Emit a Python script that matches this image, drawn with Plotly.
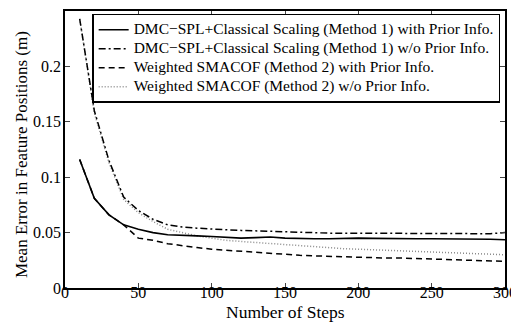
import plotly.graph_objects as go

steps = list(range(10, 301, 10))

m1_with = [0.116, 0.081, 0.066, 0.057, 0.053, 0.050, 0.048, 0.0478, 0.047, 0.0465,
           0.046, 0.045, 0.0455, 0.046, 0.045, 0.0445, 0.0445, 0.0445, 0.045, 0.045,
           0.0448, 0.0445, 0.0445, 0.0445, 0.0445, 0.0445, 0.044, 0.044, 0.044, 0.0435]
m1_without = [0.243, 0.160, 0.115, 0.082, 0.070, 0.062, 0.057, 0.055, 0.054, 0.053,
              0.0525, 0.052, 0.0515, 0.051, 0.051, 0.050, 0.0498, 0.0495, 0.0495, 0.0495,
              0.0493, 0.049, 0.049, 0.049, 0.049, 0.049, 0.049, 0.049, 0.049, 0.050]
m2_with = [0.116, 0.081, 0.066, 0.057, 0.045, 0.043, 0.040, 0.038, 0.0365, 0.035,
           0.034, 0.033, 0.0325, 0.031, 0.030, 0.0295, 0.029, 0.0285, 0.028, 0.028,
           0.0275, 0.027, 0.027, 0.0265, 0.026, 0.0255, 0.025, 0.025, 0.0245, 0.024]
m2_without = [0.243, 0.158, 0.113, 0.080, 0.068, 0.060, 0.053, 0.050, 0.047, 0.045,
              0.043, 0.042, 0.041, 0.040, 0.039, 0.038, 0.037, 0.036, 0.0355, 0.035,
              0.0345, 0.034, 0.033, 0.0325, 0.032, 0.0315, 0.031, 0.0305, 0.030, 0.030]

names = ["DMC\u2212SPL+Classical Scaling (Method 1) with Prior Info.",
         "DMC\u2212SPL+Classical Scaling (Method 1) w/o Prior Info.",
         "Weighted SMACOF (Method 2) with Prior Info.",
         "Weighted SMACOF (Method 2) w/o Prior Info."]

y_ticks = [0, 0.05, 0.1, 0.15, 0.2, 0.25]
y_tick_labels = ["0", "0.05", "0.1", "0.15", "0.2", "0.25"]
x_ticks = [0, 50, 100, 150, 200, 250, 300]
x_title = "Number of Steps"
y_title = "Mean Error in Feature Positions (m)"

font = "Liberation Serif"


def leg(name):
    return '<span style="font-size:15.5px">' + name + '</span>'


fig = go.Figure()
fig.add_trace(go.Scatter(x=steps, y=m2_without, name=leg(names[3]), mode="lines",
                         line=dict(color="#8a8a8a", width=1.5, dash="1px,2px"), legendrank=4))
fig.add_trace(go.Scatter(x=steps, y=m2_with, name=leg(names[2]), mode="lines",
                         line=dict(color="black", width=1.5, dash="6px,4px"), legendrank=3))
fig.add_trace(go.Scatter(x=steps, y=m1_without, name=leg(names[1]), mode="lines",
                         line=dict(color="black", width=1.5, dash="7px,3px,2px,3px"), legendrank=2))
fig.add_trace(go.Scatter(x=steps, y=m1_with, name=leg(names[0]), mode="lines",
                         line=dict(color="black", width=1.6), legendrank=1))

# the page body has an 8px margin at top/left, so the figure is 8px smaller than the window
fig.update_layout(
    width=511, height=314,
    margin=dict(l=57, r=14, t=3, b=34),
    paper_bgcolor="white", plot_bgcolor="white",
    font=dict(family=font, size=16, color="black"),
    showlegend=True,
    legend=dict(x=0.989, xanchor="right", y=0.99, yanchor="top",
                bgcolor="white", bordercolor="black", borderwidth=1.5,
                font=dict(family=font, size=10), tracegroupgap=0,
                itemwidth=30),
    xaxis=dict(range=[0, 300], tickvals=x_ticks, ticks="inside", ticklen=5,
               showline=True, linecolor="black", linewidth=1.5, mirror="ticks",
               showgrid=False, zeroline=False, automargin=False,
               ticklabelstandoff=-11,
               tickfont=dict(family=font, size=16)),
    yaxis=dict(range=[0, 0.25], tickvals=y_ticks, ticktext=y_tick_labels, ticks="inside", ticklen=5,
               showline=True, linecolor="black", linewidth=1.5, mirror="ticks",
               showgrid=False, zeroline=False, automargin=False,
               ticklabelstandoff=-1,
               tickfont=dict(family=font, size=16)),
    annotations=[
        dict(text=x_title, xref="paper", yref="paper", x=0.5, y=-0.086,
             xanchor="center", yanchor="middle", showarrow=False,
             font=dict(family=font, size=17.5)),
        dict(text=y_title, xref="paper", yref="paper", x=-0.1, y=0.48,
             xanchor="center", yanchor="middle", showarrow=False, textangle=-90,
             font=dict(family=font, size=17)),
    ],
)

fig.write_html("out.html")
